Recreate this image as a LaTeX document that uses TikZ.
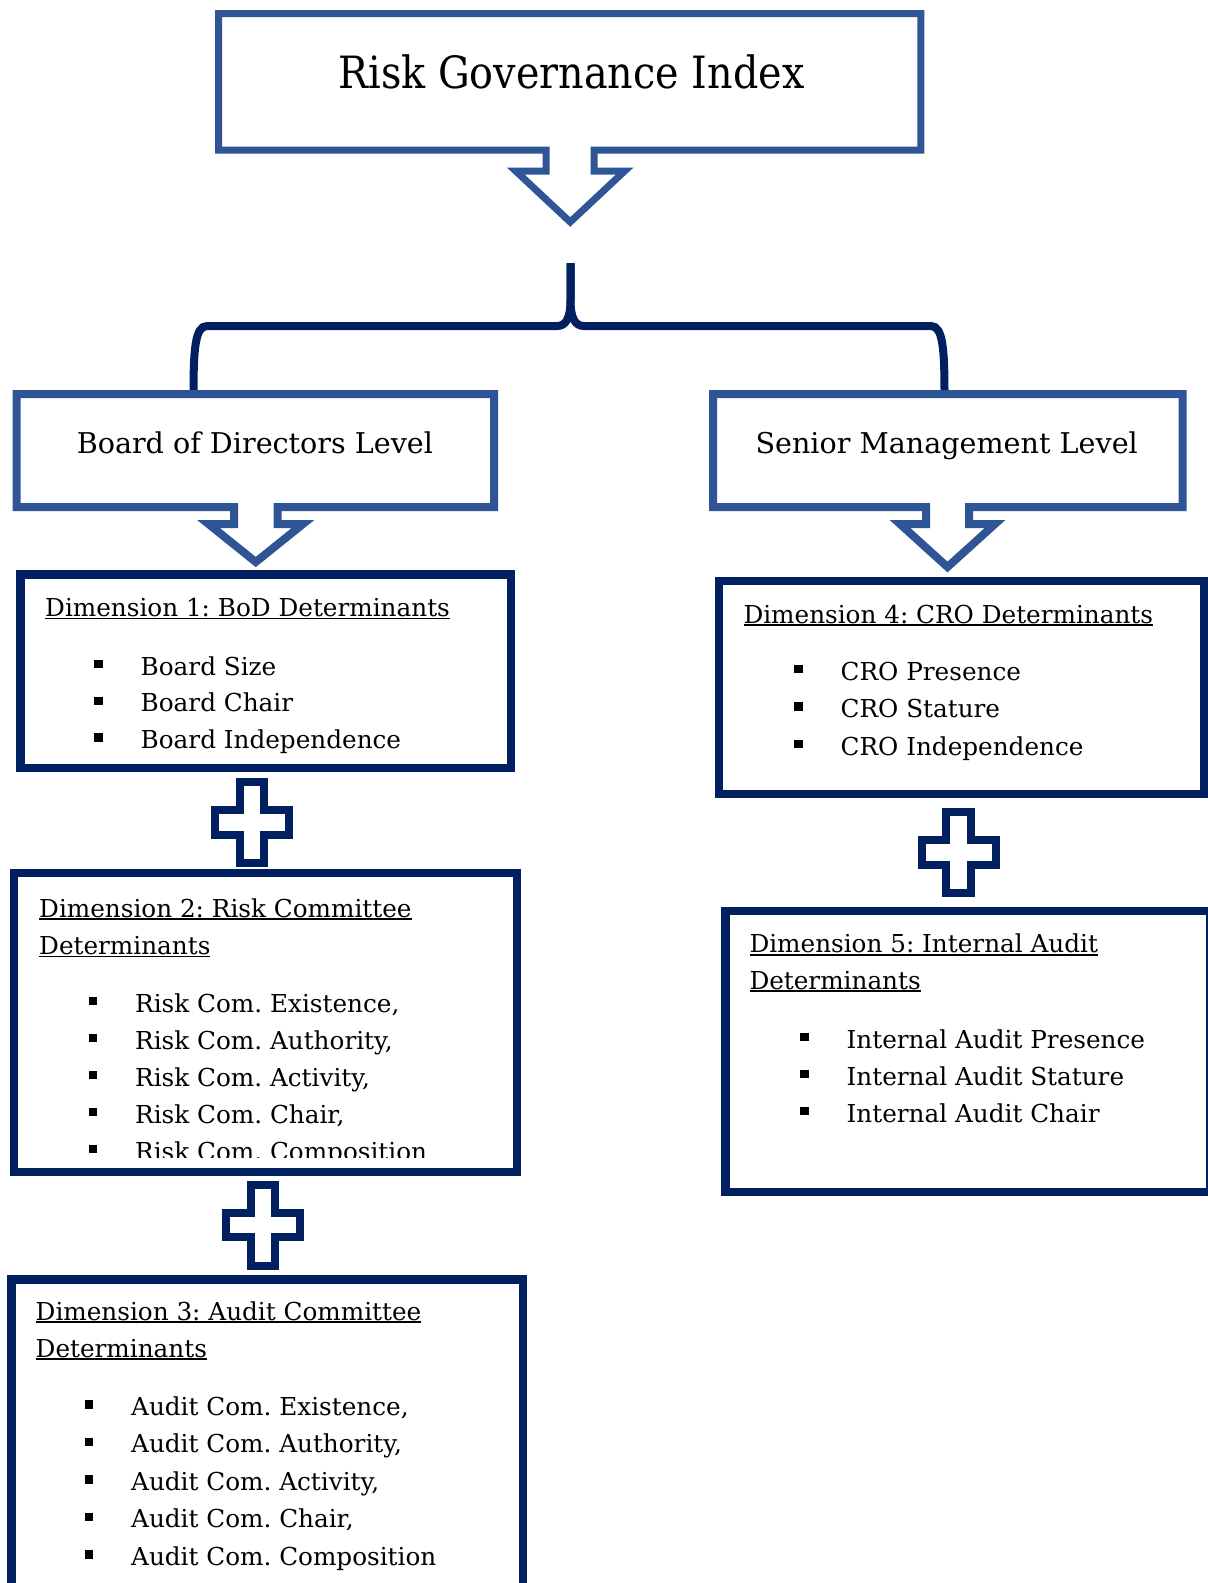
\documentclass[tikz,border=0pt]{standalone}
\usepackage{fontspec}
\setmainfont{DejaVu Serif}
\frenchspacing
\definecolor{calloutblue}{RGB}{47,85,151}
\definecolor{navy}{RGB}{0,32,96}
\newcommand{\dimhead}[1]{\setbox0\hbox{#1}\rlap{\rule[-2.8pt]{\wd0}{1.8pt}}\box0}
\newcommand{\sqbullet}{\makebox[46.5pt][l]{\rule[6.6pt]{8.6pt}{8.6pt}}}
\begin{document}
\begin{tikzpicture}[x=1pt,y=-1pt,
    callout/.style={draw=calloutblue,line width=7.5pt},
    dimbox/.style={draw=navy,line width=8.5pt,inner sep=0pt},
    plussign/.style={draw=navy,line width=8pt},
    bracestroke/.style={draw=navy,line width=8pt},
    txt/.style={anchor=base west,inner sep=0pt,font=\fontsize{24.7}{36.7}\selectfont},
    leveltxt/.style={anchor=base,inner sep=0pt,font=\fontsize{28.6}{34}\selectfont},
    titletxt/.style={anchor=base,inner sep=0pt,font=\fontsize{39.7}{48}\selectfont}]
  \useasboundingbox (0,0) rectangle (1208,1583);
  \fill[white] (0,0) rectangle (1208,1583);
  \clip (0,0) rectangle (1208,1583);

  \coordinate (bracetop) at (570.5,263);
  \draw[bracestroke] (193.5,394) .. controls (193.5,350) and (195,326) .. (207,326)
    -- (557,326) .. controls (566,326) and (570.5,318) .. (570.5,300) -- (bracetop);
  \draw[bracestroke] (944.5,394) .. controls (944.5,350) and (943,326) .. (931,326)
    -- (584,326) .. controls (575,326) and (570.5,318) .. (570.5,300) -- (bracetop);

  \draw[callout,line width=7pt] (218.7,13.6) -- (920.9,13.6) -- (920.9,150) -- (594.2,150)
    -- (594.2,171) -- (624.7,171) -- (570.2,222) -- (515.7,171) -- (546.2,171)
    -- (546.2,150) -- (218.7,150) -- cycle;
  \draw[callout,line width=8pt] (16.7,394) -- (494,394) -- (494,507) -- (277.5,507)
    -- (277.5,524) -- (303,524) -- (255.75,562) -- (208.5,524) -- (234,524)
    -- (234,507) -- (16.7,507) -- cycle;
  \draw[callout,line width=8pt] (713,394) -- (1182.5,394) -- (1182.5,507) -- (969,507)
    -- (969,524) -- (995,524) -- (947.5,567) -- (900,524) -- (926,524)
    -- (926,507) -- (713,507) -- cycle;

  \node[titletxt] (rgi) at (571.5,88) {\scalebox{1}[1.12]{Risk Governance Index}};
  \node[leveltxt] (bodl) at (254.9,453) {Board of Directors Level};
  \node[leveltxt] (sml) at (946.7,453) {Senior Management Level};

  \node[dimbox,minimum width=490.5,minimum height=193.5] (dim1) at (265.75,671.25) {};
  \node[dimbox,minimum width=503,minimum height=299] (dim2) at (265.5,1022.5) {};
  \node[dimbox,minimum width=511.3,minimum height=320.5] (dim3) at (267.35,1439.75) {};
  \node[dimbox,minimum width=485,minimum height=213] (dim4) at (961.5,687.5) {};
  \node[dimbox,minimum width=484.5,minimum height=281] (dim5) at (967.75,1051.5) {};

  \foreach \x/\y in {252/822.5,263/1225,958.5/852.5}
    \draw[plussign] (\x,\y) ++(-12.25,-40.5) -- ++(24.5,0) -- ++(0,28.25) -- ++(24.75,0)
      -- ++(0,24.5) -- ++(-24.75,0) -- ++(0,28.25) -- ++(-24.5,0) -- ++(0,-28.25)
      -- ++(-24.75,0) -- ++(0,-24.5) -- ++(24.75,0) -- cycle;

  \node[txt] (d1h) at (45,616.5) {\dimhead{Dimension 1: BoD Determinants}};
  \foreach \t [count=\i] in {Board Size,Board Chair,Board Independence}
    \node[txt] (d1\i) at (94,{675+36.7*(\i-1)}) {\sqbullet\t};

  \node[txt] (d2h) at (39,917.4) {\dimhead{Dimension 2: Risk Committee}};
  \node[txt] (d2g) at (39,954.5) {\dimhead{Determinants}};
  \begin{scope}
    \clip (14,873) rectangle (517,1157);
    \foreach \t [count=\i] in {{Risk Com. Existence,},{Risk Com. Authority,},{Risk Com. Activity,},{Risk Com. Chair,},Risk Com. Composition}
      \node[txt] (d2\i) at (88.5,{1012+37*(\i-1)}) {\sqbullet\t};
  \end{scope}

  \node[txt] (d3h) at (35.5,1320) {\dimhead{Dimension 3: Audit Committee}};
  \node[txt] (d3g) at (35.5,1357.4) {\dimhead{Determinants}};
  \foreach \t [count=\i] in {{Audit Com. Existence,},{Audit Com. Authority,},{Audit Com. Activity,},{Audit Com. Chair,},Audit Com. Composition}
    \node[txt] (d3\i) at (84.5,{1415.5+37.4*(\i-1)}) {\sqbullet\t};

  \node[txt] (d4h) at (743.3,623) {\dimhead{Dimension 4: CRO Determinants}};
  \foreach \t [count=\i] in {CRO Presence,CRO Stature,CRO Independence}
    \node[txt] (d4\i) at (794,{680+37.5*(\i-1)}) {\sqbullet\t};

  \node[txt] (d5h) at (749.3,952.7) {\dimhead{Dimension 5: Internal Audit}};
  \node[txt] (d5g) at (749.3,989.3) {\dimhead{Determinants}};
  \foreach \t [count=\i] in {Internal Audit Presence,Internal Audit Stature,Internal Audit Chair}
    \node[txt] (d5\i) at (800,{1048+37*(\i-1)}) {\sqbullet\t};
\end{tikzpicture}
\end{document}
